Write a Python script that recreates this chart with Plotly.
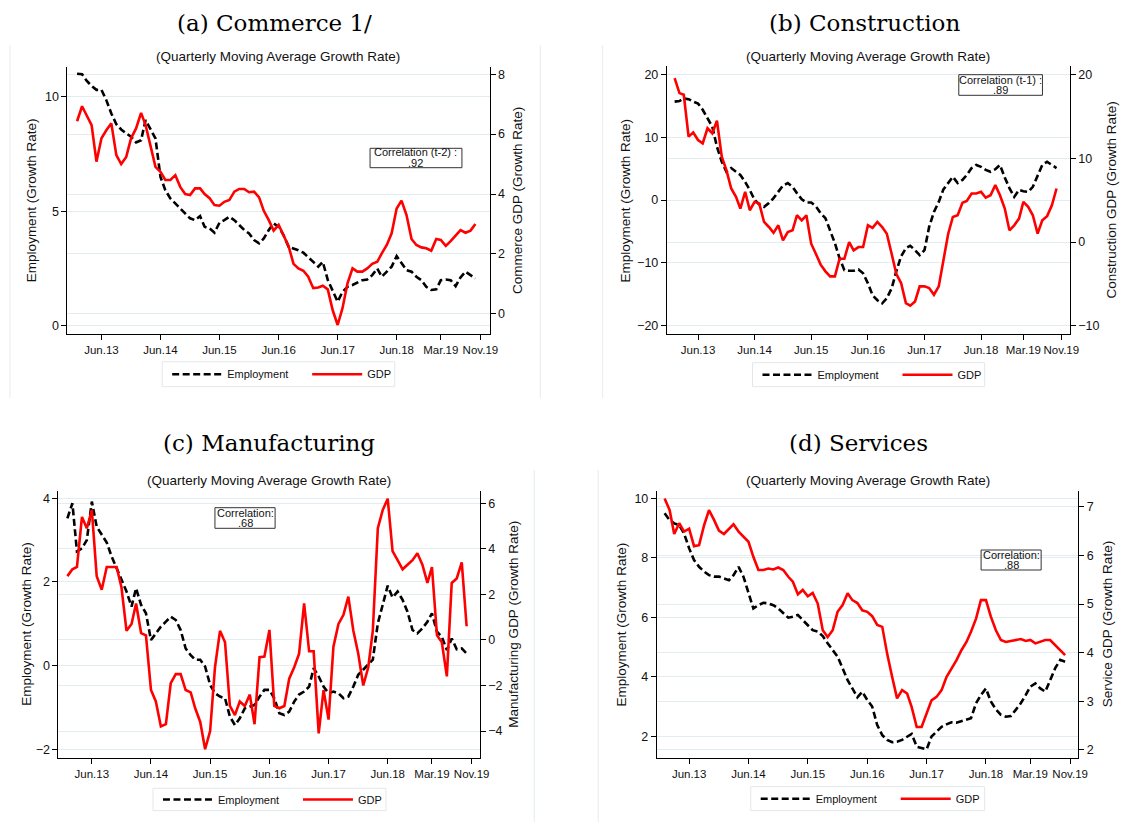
import pandas as pd
import plotly.graph_objects as go

# ---------------- data ----------------
months = pd.date_range("2013-01-01", "2019-10-01", freq="MS")
tick_dates = ["2013-06-01", "2014-06-01", "2015-06-01", "2016-06-01",
              "2017-06-01", "2018-06-01", "2019-03-01", "2019-11-01"]
tick_labels = ["Jun.13", "Jun.14", "Jun.15", "Jun.16", "Jun.17", "Jun.18", "Mar.19", "Nov.19"]

commerce_emp = [11.0, 10.98, 10.7, 10.47, 10.3, 10.3, 9.85, 9.27, 8.8, 8.57, 8.4, 8.25,
                8.0, 8.1, 8.98, 8.6, 8.18, 6.5, 5.92, 5.56, 5.34, 5.12, 4.9, 4.69,
                4.61, 4.79, 4.32, 4.25, 4.06, 4.5, 4.61, 4.76, 4.61, 4.4, 4.18, 4.03,
                3.74, 3.6, 3.81, 4.18, 4.47, 4.32, 3.96, 3.45, 3.38, 3.3, 3.19, 3.01,
                2.79, 2.58, 2.79, 2.0, 1.56, 1.05, 1.48, 1.70, 1.78, 1.88, 1.99, 2.02,
                2.21, 2.5, 2.14, 2.36, 2.58, 3.04, 2.72, 2.43, 2.36, 2.14, 1.99, 1.70,
                1.56, 1.59, 1.99, 2.02, 1.99, 1.73, 2.11, 2.36, 2.21, 2.07]
commerce_gdp = [6.43, 6.93, 6.63, 6.3, 5.08, 5.86, 6.13, 6.36, 5.3, 5.0, 5.24, 5.86,
                6.19, 6.71, 6.3, 5.58, 4.91, 4.74, 4.47, 4.47, 4.63, 4.24, 4.0, 3.97,
                4.19, 4.19, 4.0, 3.86, 3.63, 3.61, 3.74, 3.8, 4.08, 4.17, 4.17, 4.06,
                4.08, 3.89, 3.44, 3.13, 2.78, 2.97, 2.63, 2.27, 1.67, 1.52, 1.44, 1.24,
                0.86, 0.88, 0.94, 0.82, 0.13, -0.37, 0.19, 1.02, 1.52, 1.41, 1.41, 1.52,
                1.67, 1.74, 2.02, 2.3, 2.69, 3.52, 3.78, 3.3, 2.5, 2.3, 2.22, 2.19,
                2.11, 2.5, 2.47, 2.27, 2.43, 2.61, 2.8, 2.71, 2.78, 3.0]

construction_emp = [15.7, 15.8, 16.2, 16.1, 15.7, 15.4, 14.4, 13.0, 11.7, 8.5, 6.1, 4.5,
                    5.1, 4.5, 4.0, 2.9, 1.6, 0.0, -0.7, -1.1, -0.5, 0.3, 1.3, 2.3,
                    2.7, 2.1, 1.1, 0.1, -0.4, -0.4, -1.0, -2.1, -2.9, -4.8, -6.9, -9.3,
                    -11.2, -11.3, -11.3, -11.1, -11.7, -13.3, -15.2, -16.0, -16.5, -15.7, -14.1, -11.4,
                    -9.0, -7.7, -7.3, -8.0, -8.8, -8.0, -4.3, -1.9, -0.3, 1.7, 2.7, 3.7,
                    2.7, 3.2, 4.0, 5.1, 5.6, 5.3, 4.8, 4.5, 4.9, 5.6, 3.6, 1.9,
                    0.5, 1.6, 1.4, 1.3, 2.1, 4.0, 5.6, 6.1, 5.6, 5.1]
construction_gdp = [19.6, 17.8, 17.6, 12.6, 13.1, 12.2, 11.8, 13.6, 13.0, 14.5, 10.2, 8.6,
                    6.4, 5.4, 4.0, 6.0, 3.8, 4.8, 4.6, 2.4, 1.8, 1.1, 2.0, 0.2,
                    1.2, 1.4, 3.2, 2.6, 3.2, -0.2, -1.4, -2.7, -3.5, -4.1, -4.1, -2.0,
                    -2.0, 0.0, -1.0, -0.6, -0.6, 2.0, 1.7, 2.4, 1.8, 1.0, -1.4, -3.8,
                    -4.9, -7.3, -7.6, -7.1, -5.3, -5.3, -5.5, -6.3, -5.3, -2.2, 1.0, 3.0,
                    3.2, 4.7, 4.9, 5.8, 5.8, 6.0, 5.3, 5.6, 6.8, 5.6, 4.0, 1.4,
                    2.0, 2.8, 4.8, 4.2, 3.2, 1.0, 2.6, 3.1, 4.4, 6.4]

manufacturing_emp = [3.52, 3.88, 2.73, 2.80, 3.0, 3.92, 3.32, 3.12, 2.94, 2.61, 2.33, 2.09,
                     1.77, 1.41, 1.85, 1.45, 1.25, 0.61, 0.77, 0.93, 1.05, 1.17, 1.09, 0.85,
                     0.41, 0.25, 0.14, 0.14, -0.02, -0.46, -0.66, -0.74, -0.78, -1.22, -1.42, -1.26,
                     -1.02, -0.98, -0.94, -0.74, -0.58, -0.58, -0.78, -1.14, -1.18, -1.10, -0.86, -0.69,
                     -0.62, -0.50, -0.06, -0.26, -0.50, -0.66, -0.62, -0.66, -0.78, -0.74, -0.50, -0.22,
                     -0.10, 0.02, 0.14, 1.01, 1.49, 1.91, 1.63, 1.77, 1.57, 1.29, 0.85, 0.77,
                     0.89, 1.05, 1.25, 0.81, 0.69, 0.37, 0.65, 0.39, 0.41, 0.29]
manufacturing_gdp = [2.8, 3.1, 3.2, 5.4, 4.9, 5.7, 2.8, 2.2, 3.2, 3.2, 3.2, 2.3,
                     0.4, 0.7, 1.6, 0.3, 0.2, -2.2, -2.7, -3.8, -3.7, -1.9, -1.5, -1.5,
                     -2.2, -2.3, -3.0, -3.6, -4.8, -4.0, -1.2, 0.4, -0.1, -2.9, -3.3, -2.7,
                     -2.9, -2.4, -3.7, -0.76, -0.73, 0.44, -2.9, -3.0, -2.9, -1.7, -1.2, -0.6,
                     1.6, -0.5, -0.5, -4.1, -2.2, -3.5, -0.3, 0.7, 1.1, 1.9, 0.4, -0.6,
                     -2.0, -1.2, 0.4, 4.9, 5.7, 6.2, 3.9, 3.5, 3.1, 3.3, 3.5, 3.8,
                     3.3, 2.5, 3.2, 0.2, -0.1, -1.6, 2.5, 2.7, 3.4, 0.6]

services_emp = [9.50, 9.27, 9.16, 9.10, 8.82, 8.32, 7.93, 7.70, 7.54, 7.42, 7.37, 7.37,
                7.31, 7.25, 7.42, 7.70, 7.37, 6.86, 6.30, 6.41, 6.49, 6.47, 6.41, 6.30,
                6.13, 5.99, 6.02, 6.08, 5.91, 5.74, 5.57, 5.52, 5.37, 5.13, 4.90, 4.68,
                4.29, 3.89, 3.61, 3.31, 3.50, 3.22, 3.00, 2.38, 2.04, 1.88, 1.80, 1.82,
                1.88, 1.99, 2.08, 1.65, 1.60, 1.56, 1.99, 2.16, 2.32, 2.40, 2.47, 2.46,
                2.52, 2.57, 2.61, 3.11, 3.39, 3.61, 3.17, 2.91, 2.72, 2.66, 2.68, 2.89,
                3.11, 3.39, 3.67, 3.78, 3.61, 3.50, 3.89, 4.29, 4.57, 4.51]
services_gdp = [7.17, 6.93, 6.44, 6.66, 6.49, 6.55, 6.19, 6.21, 6.62, 6.93, 6.73, 6.51,
                6.44, 6.55, 6.64, 6.49, 6.38, 6.28, 5.97, 5.70, 5.70, 5.73, 5.71, 5.75,
                5.70, 5.56, 5.46, 5.20, 5.29, 5.16, 5.23, 5.01, 4.46, 4.32, 4.46, 4.84,
                4.98, 5.22, 5.08, 5.02, 4.87, 4.84, 4.75, 4.57, 4.53, 3.98, 3.50, 3.06,
                3.23, 3.16, 2.88, 2.47, 2.47, 2.75, 3.02, 3.09, 3.23, 3.50, 3.67, 3.84,
                4.05, 4.22, 4.43, 4.70, 5.08, 5.08, 4.74, 4.46, 4.26, 4.22, 4.24, 4.26,
                4.28, 4.24, 4.26, 4.19, 4.22, 4.26, 4.26, 4.15, 4.04, 3.95]

titles = ["(a) Commerce 1/", "(b) Construction", "(c) Manufacturing", "(d) Services"]
right_titles = ["Commerce GDP (Growth Rate)", "Construction GDP (Growth Rate)",
                "Manufacturing GDP (Growth Rate)", "Service GDP (Growth Rate)"]
corr_labels = [["Correlation (t-2) :", ".92"], ["Correlation (t-1) :", ".89"],
               ["Correlation:", ".68"], ["Correlation:", ".88"]]
left_ticks = [[0, 5, 10], [-20, -10, 0, 10, 20], [-2, 0, 2, 4], [2, 4, 6, 8, 10]]
right_ticks = [[0, 2, 4, 6, 8], [-10, 0, 10, 20], [-4, -2, 0, 2, 4, 6], [2, 3, 4, 5, 6, 7]]
emp_series = [commerce_emp, construction_emp, manufacturing_emp, services_emp]
gdp_series = [commerce_gdp, construction_gdp, manufacturing_gdp, services_gdp]

for s in emp_series + gdp_series:
    assert len(s) == len(months)

# ---------------- layout geometry (screen pixels) ----------------
OFF = 8                      # default page margin of the HTML body
W, H = 1135 - OFF, 822 - OFF
SANS = "Liberation Sans, Arial, sans-serif"
SERIF = "DejaVu Serif, Liberation Serif, serif"
GRID = "#e3ecee"


def px(x):
    return (x - OFF) / W


def py(y):
    return 1 - (y - OFF) / H


def mdate(m):
    return (pd.Timestamp("2013-01-01") + pd.Timedelta(days=m * 30.4375)).isoformat()


geo = [
    dict(x0=67.9, x1=493.9, y0=66.7, y1=334, xr=(-1.97, 83.84), yl=(-0.36, 11.31), yr=(-0.67, 8.25),
         tx=277, ty=8.5, tanchor="top", sy=56, ltx=32, rtx=522.3, ly=374.2,
         lbox=(163.6, 361.7, 398.2, 386.7),
         box=(373.3, 148.3, 466, 167.7), c1=152.0, c2=162.5),
    dict(x0=672.7, x1=1079.2, y0=66, y1=334, xr=(-1.66, 83.74), yl=(-21.39, 21.39), yr=(-10.99, 21.04),
         tx=872, ty=8.5, tanchor="top", sy=56, ltx=632, rtx=1122.3, ly=374.7,
         lbox=(759.2, 362.7, 993.4, 386.7),
         box=(967.3, 74.7, 1051.7, 95.3), c1=80.0, c2=90.3),
    dict(x0=58.9, x1=483.9, y0=490.7, y1=757.7, xr=(-1.81, 83.6), yl=(-2.2, 4.18), yr=(-5.17, 6.55),
         tx=271, ty=443, tanchor="middle", sy=480.7, ltx=26.8, rtx=518, ly=799.5,
         lbox=(154.3, 788.3, 389.3, 810.7),
         box=(216.8, 507.7, 277.5, 528.3), c1=512.5, c2=523.0),
    dict(x0=662.6, x1=1087.8, y0=490.7, y1=757.7, xr=(-1.58, 83.6), yl=(1.28, 10.26), yr=(1.84, 7.33),
         tx=866, ty=443, tanchor="middle", sy=480.7, ltx=626.7, rtx=1116.8, ly=798.7,
         lbox=(757.4, 786.7, 993.4, 810.7),
         box=(989.8, 550.0, 1050.4, 570.0), c1=554.5, c2=565.0),
]

fig = go.Figure()
layout = dict(width=W, height=H, margin=dict(l=0, r=0, t=0, b=0),
              paper_bgcolor="white", plot_bgcolor="white",
              font=dict(family=SANS, color="#000"))
annotations = []
shapes = []

for i, g in enumerate(geo):
    n = i + 1
    xname = "x" if n == 1 else f"x{n}"
    yl_name = "y" if n == 1 else f"y{2 * n - 1}"
    yr_name = f"y{2 * n}"
    leg = "legend" if n == 1 else f"legend{n}"

    fig.add_trace(go.Scatter(x=months, y=emp_series[i], mode="lines", name="Employment",
                             line=dict(color="black", width=2.6, dash="7px,3.5px"),
                             xaxis=xname, yaxis=yl_name, legend=leg))
    fig.add_trace(go.Scatter(x=months, y=gdp_series[i], mode="lines", name="GDP",
                             line=dict(color="#ff0000", width=2.6),
                             xaxis=xname, yaxis=yr_name, legend=leg))

    xkey = "xaxis" if n == 1 else f"xaxis{n}"
    ylkey = "yaxis" if n == 1 else f"yaxis{2 * n - 1}"
    yrkey = f"yaxis{2 * n}"
    layout[xkey] = dict(domain=[px(g["x0"]), px(g["x1"])], anchor=yl_name, type="date",
                        range=[mdate(g["xr"][0]), mdate(g["xr"][1])],
                        tickmode="array", tickvals=tick_dates, ticktext=tick_labels,
                        ticks="outside", ticklen=5, tickcolor="#000", tickwidth=1,
                        showline=True, linecolor="#000", linewidth=1,
                        showgrid=False, zeroline=False,
                        tickfont=dict(family=SANS, size=11.5, color="#111"))
    layout[ylkey] = dict(domain=[py(g["y1"]), py(g["y0"])], anchor=xname,
                         range=list(g["yl"]), tickmode="array", tickvals=left_ticks[i],
                         ticks="outside", ticklen=5, tickcolor="#000", tickwidth=1,
                         showline=True, linecolor="#000", linewidth=1,
                         showgrid=True, gridcolor=GRID, gridwidth=1, zeroline=False,
                         tickfont=dict(family=SANS, size=12.5, color="#111"))
    layout[yrkey] = dict(overlaying=yl_name, side="right", anchor=xname,
                         range=list(g["yr"]), tickmode="array", tickvals=right_ticks[i],
                         ticks="outside", ticklen=5, tickcolor="#000", tickwidth=1,
                         showline=True, linecolor="#000", linewidth=1,
                         showgrid=True, gridcolor=GRID, gridwidth=1, zeroline=False,
                         tickfont=dict(family=SANS, size=12.5, color="#111"))
    lx0, ly0, lx1, ly1 = g["lbox"]
    layout[leg] = dict(orientation="h", x=px(lx0 + 5), y=py(g["ly"]),
                       xanchor="left", yanchor="middle", xref="paper", yref="paper",
                       bgcolor="rgba(0,0,0,0)", borderwidth=0,
                       font=dict(family=SANS, size=11, color="#111"),
                       itemwidth=50, entrywidth=75, entrywidthmode="pixels")
    shapes.append(dict(type="rect", xref="paper", yref="paper",
                       x0=px(lx0), x1=px(lx1), y0=py(ly1), y1=py(ly0),
                       line=dict(color="#e2e8ea", width=1), fillcolor="rgba(0,0,0,0)", layer="below"))

    # panel title and subtitle
    annotations.append(dict(text=titles[i], x=px(g["tx"]), y=py(g["ty"]), xref="paper", yref="paper",
                            showarrow=False, xanchor="center", yanchor=g["tanchor"],
                            font=dict(family=SERIF, size=23, color="#000")))
    annotations.append(dict(text="(Quarterly Moving Average Growth Rate)",
                            x=px((g["x0"] + g["x1"]) / 2), y=py(g["sy"]), xref="paper", yref="paper",
                            showarrow=False, xanchor="center", yanchor="middle",
                            font=dict(family=SANS, size=13.5, color="#111")))
    ymid = (g["y0"] + g["y1"]) / 2
    annotations.append(dict(text="Employment (Growth Rate)", x=px(g["ltx"]), y=py(ymid),
                            xref="paper", yref="paper", showarrow=False, textangle=-90,
                            xanchor="center", yanchor="middle",
                            font=dict(family=SANS, size=13.5, color="#111")))
    annotations.append(dict(text=right_titles[i], x=px(g["rtx"]), y=py(ymid),
                            xref="paper", yref="paper", showarrow=False, textangle=-90,
                            xanchor="center", yanchor="middle",
                            font=dict(family=SANS, size=13.5, color="#111")))
    # correlation box
    bx0, by0, bx1, by1 = g["box"]
    shapes.append(dict(type="rect", xref="paper", yref="paper",
                       x0=px(bx0), x1=px(bx1), y0=py(by1), y1=py(by0),
                       line=dict(color="#333", width=1), fillcolor="rgba(255,255,255,0)"))
    cx = (bx0 + bx1) / 2
    annotations.append(dict(text=corr_labels[i][0], x=px(cx), y=py(g["c1"]), xref="paper", yref="paper",
                            showarrow=False, xanchor="center", yanchor="middle",
                            font=dict(family=SANS, size=11, color="#111")))
    annotations.append(dict(text=corr_labels[i][1], x=px(cx), y=py(g["c2"]), xref="paper", yref="paper",
                            showarrow=False, xanchor="center", yanchor="middle",
                            font=dict(family=SANS, size=11, color="#111")))

# faint frames of the sub-figures
for xv, ya, yb in [(10, 45, 398), (545, 45, 398), (608, 45, 398),
                   (539, 470, 822), (603.5, 470, 822)]:
    shapes.append(dict(type="line", xref="paper", yref="paper", x0=px(xv), x1=px(xv),
                       y0=py(yb), y1=py(ya), line=dict(color="#e4edee", width=1)))

layout["annotations"] = annotations
layout["shapes"] = shapes
fig.update_layout(**layout)
fig.write_html("out.html")
